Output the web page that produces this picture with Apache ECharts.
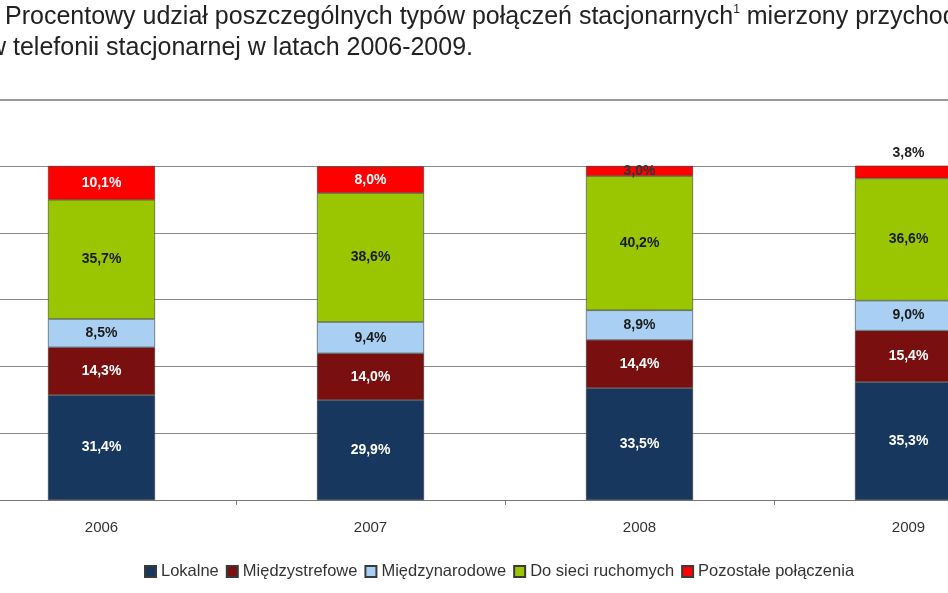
<!DOCTYPE html><html><head><meta charset="utf-8"><script src="https://cdn.jsdelivr.net/npm/echarts@6/dist/echarts.min.js"></script>
<style>body{margin:0;overflow:hidden;width:948px;height:593px}#c{width:1076px;height:593px;margin-left:-33px}</style></head><body><div id="c"></div><script>
const years=['2006','2007','2008','2009'];
const lokalne=[31.4,29.9,33.5,35.3];
const miedzystrefowe=[14.3,14.0,14.4,15.4];
const miedzynarodowe=[8.5,9.4,8.9,9.0];
const ruchome=[35.7,38.6,40.2,36.6];
const pozostale=[10.1,8.0,3.0,3.8];
const yTicks=[0,20,40,60,80,100];
const names=['Lokalne','Międzystrefowe','Międzynarodowe','Do sieci ruchomych','Pozostałe połączenia'];
const data=[lokalne,miedzystrefowe,miedzynarodowe,ruchome,pozostale];
const colors=['#17375e','#7a0f0f','#a9cff2','#99c600','#ff0000'];
const labColors=['#fff','#fff','#1a1a1a','#1a1a1a','#fff'];
const fmt=v=>v.toFixed(1).replace('.',',')+'%';
const chart=echarts.init(document.getElementById('c'));
const series=data.map((d,i)=>({name:names[i],type:'bar',stack:'s',barWidth:107,data:d.map((v,j)=>{
  const o={value:v};
  if(i===4&&j===2)o.label={color:'#333'};
  if(i===4&&j===3)o.label={position:'top',color:'#222',distance:6};
  return o;}),
  itemStyle:{color:colors[i],borderColor:'#3a3a3a',borderWidth:0.6},
  label:{show:true,position:'inside',color:labColors[i],fontWeight:'bold',fontSize:14,fontFamily:'Arial',formatter:p=>fmt(p.value)}}));
chart.setOption({animation:false,
 grid:{left:0,right:0,top:166,bottom:93},
 xAxis:{type:'category',data:years,axisLine:{lineStyle:{color:'#777'}},axisTick:{show:true,length:5,lineStyle:{color:'#777'}},axisLabel:{color:'#333',fontSize:15,fontFamily:'Arial',margin:20}},
 yAxis:{type:'value',min:0,max:100,interval:20,axisLabel:{show:false},splitLine:{lineStyle:{color:'#8a8a8a'}}},
 legend:{bottom:8,left:172,itemWidth:11,itemHeight:11,itemGap:7,textStyle:{fontSize:16.5,fontFamily:'Arial',color:'#333'},icon:'rect',data:names},
 graphic:[
  {type:'text',left:38,top:4,style:{text:'Procentowy udział poszczególnych typów połączeń stacjonarnych{s|1} mierzony przychodami',rich:{s:{fontSize:12,verticalAlign:'top',padding:[0,0,14,0]}},font:'25px Arial',fill:'#222'}},
  {type:'text',left:21,top:36,style:{text:'w telefonii stacjonarnej w latach 2006-2009.',font:'25px Arial',fill:'#222'}},
  {type:'line',shape:{x1:33,y1:100,x2:1076,y2:100},style:{stroke:'#999',lineWidth:2}}
 ],
 series});
</script></body></html>
